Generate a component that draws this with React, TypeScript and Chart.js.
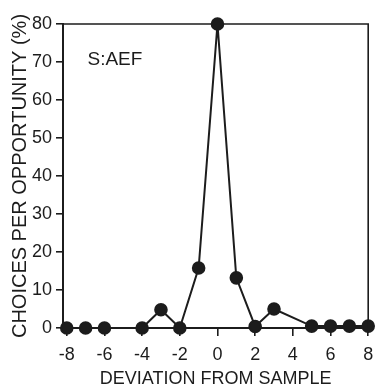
import React, { useEffect, useRef } from "react";
import { Chart, registerables } from "chart.js";

Chart.register(...registerables);

const deviations = [-8, -7, -6, -4, -3, -2, -1, 0, 1, 2, 3, 5, 6, 7, 8];
const choices = [0, 0, 0, 0, 4.8, 0, 15.8, 80, 13.2, 0.4, 5, 0.5, 0.5, 0.5, 0.5];
const xTickValues = [-8, -6, -4, -2, 0, 2, 4, 6, 8];
const yTickValues = [0, 10, 20, 30, 40, 50, 60, 70, 80];
const panelLabel = "S:AEF";
const panelLabelPos = { x: -6.9, y: 70.5 };
const xTitle = "DEVIATION FROM SAMPLE";
const yTitle = "CHOICES PER OPPORTUNITY (%)";

const FONT = "'Liberation Sans', Arial, Helvetica, sans-serif";
const INK = "#1c1c1c";

const framePlugin = {
  id: "frame",
  afterDraw(chart: any) {
    const { ctx, chartArea, scales } = chart;
    ctx.save();
    ctx.strokeStyle = INK;
    ctx.lineWidth = 1.6;
    ctx.beginPath();
    ctx.moveTo(chartArea.left, chartArea.top);
    ctx.lineTo(chartArea.right, chartArea.top);
    ctx.lineTo(chartArea.right, chartArea.bottom);
    ctx.stroke();
    ctx.fillStyle = INK;
    ctx.font = `19px ${FONT}`;
    ctx.textAlign = "left";
    ctx.textBaseline = "middle";
    ctx.fillText(
      panelLabel,
      scales.x.getPixelForValue(panelLabelPos.x),
      scales.y.getPixelForValue(panelLabelPos.y)
    );
    ctx.restore();
  },
};

export default function App() {
  const ref = useRef<HTMLCanvasElement | null>(null);
  useEffect(() => {
    document.body.style.margin = "0";
    const canvas = ref.current!;
    const chart = new Chart(canvas, {
      type: "line",
      data: {
        datasets: [
          {
            data: deviations.map((x, i) => ({ x, y: choices[i] })),
            borderColor: INK,
            backgroundColor: INK,
            borderWidth: 2,
            pointRadius: 5.8,
            pointBackgroundColor: INK,
            pointBorderColor: INK,
            tension: 0,
            clip: false as any,
          },
        ],
      },
      options: {
        responsive: false,
        animation: false,
        layout: { padding: { top: 24, right: 2, left: 0, bottom: 0 } },
        plugins: { legend: { display: false }, tooltip: { enabled: false } },
        scales: {
          x: {
            type: "linear",
            min: -8.2,
            max: 8,
            afterBuildTicks: (s: any) => {
              s.ticks = xTickValues.map((v) => ({ value: v }));
            },
            afterFit: (s: any) => {
              s.height = 59;
              s.paddingLeft = 0;
              s.paddingRight = 0;
            },
            grid: {
              display: true,
              drawOnChartArea: false,
              drawTicks: true,
              tickLength: 8,
              color: INK,
              lineWidth: 1.6,
            },
            border: { display: true, color: INK, width: 2 },
            ticks: {
              color: INK,
              font: { family: FONT, size: 18 },
              padding: 8,
              maxRotation: 0,
              autoSkip: false,
            },
            title: {
              display: true,
              text: xTitle,
              color: INK,
              font: { family: FONT, size: 18 },
              padding: { top: 0, bottom: -3 },
            },
          },
          y: {
            type: "linear",
            min: 0,
            max: 80,
            afterBuildTicks: (s: any) => {
              s.ticks = yTickValues.map((v) => ({ value: v }));
            },
            afterFit: (s: any) => {
              s.width = 63;
              s.paddingTop = 0;
              s.paddingBottom = 0;
            },
            grid: {
              display: true,
              drawOnChartArea: false,
              drawTicks: true,
              tickLength: 7,
              color: INK,
              lineWidth: 1.6,
            },
            border: { display: true, color: INK, width: 2 },
            ticks: {
              color: INK,
              font: { family: FONT, size: 18 },
              padding: 4,
              autoSkip: false,
            },
            title: {
              display: true,
              text: yTitle,
              color: INK,
              font: { family: FONT, size: 20 },
              padding: { top: 8, bottom: 0 },
            },
          },
        },
      },
      plugins: [framePlugin],
    });
    return () => chart.destroy();
  }, []);
  return <canvas ref={ref} width={376} height={387} />;
}
